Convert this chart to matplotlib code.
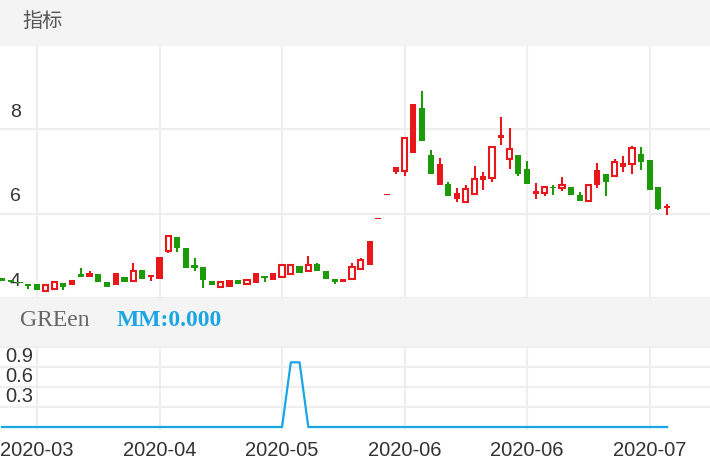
import matplotlib
matplotlib.use("Agg")
import matplotlib.pyplot as plt
from matplotlib.patches import Rectangle
from matplotlib.transforms import ScaledTranslation

plt.rcParams['font.family'] = ['Noto Sans CJK SC', 'DejaVu Sans']

# candle data
opens = [4.47, 4.43, 4.39, 4.33, 4.34, 4.17, 4.21, 4.36, 4.31, 4.56,
         4.49, 4.56, 4.39, 4.31, 4.49, 4.41, 4.67, 4.49, 4.46, 5.12,
         5.44, 5.19, 4.78, 4.74, 4.41, 4.27, 4.27, 4.42, 4.33, 4.35,
         4.51, 4.43, 4.49, 4.57, 4.76, 4.64, 4.80, 4.64, 4.45, 4.37,
         4.45, 4.69, 4.78, 5.87, 6.44, 6.98, 7.02, 7.45, 8.51, 7.39,
         6.68, 6.71, 6.35, 6.28, 6.46, 6.81, 6.84, 7.79, 7.29, 7.39,
         7.06, 6.47, 6.49, 6.63, 6.60, 6.63, 6.45, 6.29, 6.68, 6.94,
         6.89, 7.10, 7.18, 7.41, 7.28, 6.64, 6.14]
closes = [4.41, 4.38, 4.35, 4.28, 4.20, 4.30, 4.37, 4.25, 4.43, 4.49,
          4.59, 4.37, 4.27, 4.59, 4.38, 4.65, 4.46, 4.55, 4.98, 5.47,
          5.18, 4.72, 4.71, 4.42, 4.31, 4.39, 4.43, 4.33, 4.43, 4.59,
          4.47, 4.59, 4.78, 4.78, 4.59, 4.78, 4.63, 4.45, 4.37, 4.45,
          4.74, 4.90, 5.36, 5.89, 6.46, 7.10, 7.80, 8.59, 7.73, 6.94,
          7.18, 6.42, 6.49, 6.59, 6.82, 6.89, 7.59, 7.87, 7.53, 6.94,
          6.71, 6.53, 6.63, 6.61, 6.68, 6.45, 6.29, 6.68, 7.04, 6.76,
          7.23, 7.20, 7.55, 7.22, 6.55, 6.12, 6.17]
highs = [4.47, 4.43, 4.39, 4.33, 4.34, 4.30, 4.37, 4.36, 4.43, 4.72,
         4.65, 4.56, 4.39, 4.59, 4.49, 4.82, 4.67, 4.55, 4.98, 5.47,
         5.44, 5.19, 4.96, 4.74, 4.41, 4.39, 4.43, 4.42, 4.43, 4.59,
         4.51, 4.59, 4.78, 4.78, 4.76, 5.00, 4.84, 4.64, 4.45, 4.45,
         4.84, 4.96, 5.36, 5.89, 6.46, 7.10, 7.80, 8.59, 8.90, 7.51,
         7.32, 6.75, 6.60, 6.68, 7.12, 7.00, 7.59, 8.30, 8.02, 7.39,
         7.26, 6.72, 6.63, 6.68, 6.86, 6.63, 6.51, 6.68, 7.20, 6.94,
         7.29, 7.36, 7.61, 7.57, 7.28, 6.64, 6.24]
lows = [4.41, 4.38, 4.35, 4.22, 4.20, 4.17, 4.21, 4.20, 4.31, 4.49,
        4.49, 4.37, 4.27, 4.31, 4.38, 4.41, 4.46, 4.40, 4.46, 5.06,
        5.10, 4.72, 4.64, 4.24, 4.31, 4.27, 4.27, 4.33, 4.33, 4.35,
        4.37, 4.43, 4.49, 4.57, 4.59, 4.64, 4.63, 4.45, 4.34, 4.37,
        4.45, 4.69, 4.78, 5.87, 6.44, 6.94, 6.90, 7.45, 7.73, 6.94,
        6.68, 6.42, 6.28, 6.25, 6.46, 6.55, 6.74, 7.62, 7.07, 6.89,
        6.71, 6.35, 6.42, 6.45, 6.53, 6.45, 6.29, 6.29, 6.60, 6.43,
        6.89, 6.98, 6.94, 7.04, 6.55, 6.08, 5.96]
# rising candles drawn solid instead of hollow
solid_up = [8, 10, 13, 17, 18, 26, 29, 31, 39, 42, 43, 44, 45, 47, 50,
            52, 55, 57, 61, 68, 71, 76]

mm = [0.0] * 77
mm[33] = 0.97
mm[34] = 0.97

tick_pos = [4, 18, 32, 46, 60, 74]
tick_labels = ['2020-03', '2020-04', '2020-05', '2020-06', '2020-06', '2020-07']

RED = '#e8171c'
GREEN = '#1c9a0a'
BLUE = '#1aa6e4'
GRID = '#eeeeee'
BAND = '#f4f4f4'
TXT = '#333333'
LBL_FONT = ['Liberation Sans', 'DejaVu Sans']

fig = plt.figure(figsize=(7.1, 4.72), dpi=100)

# header bands
fig.patches.append(Rectangle((0, 1 - 45 / 472), 1, 45 / 472, transform=fig.transFigure,
                             color=BAND, zorder=0))
fig.patches.append(Rectangle((0, 1 - 345 / 472), 1, 47 / 472, transform=fig.transFigure,
                             color=BAND, zorder=0))
fig.text(22 / 710, 1 - 21 / 472, '指标', fontsize=14.5, color='#555555', va='center')
fig.text(20 / 710, 1 - 321 / 472, 'GREen', fontsize=17, color='#666666', va='center',
         family='Liberation Serif')
fig.text(117 / 710, 1 - 321 / 472, 'MM:0.000', fontsize=17, color=BLUE, va='center',
         family='Liberation Serif', fontweight='bold')

xmin, xmax = -0.23, 80.9

ax = fig.add_axes([0, 1 - 298 / 472, 1, 253 / 472])
for i in range(len(opens)):
    o, c, h, l = opens[i], closes[i], highs[i], lows[i]
    col = RED if c >= o else GREEN
    lo, hi = min(o, c), max(o, c)
    ax.vlines(i, l, lo, color=col, lw=1.5, zorder=2)
    ax.vlines(i, hi, h, color=col, lw=1.5, zorder=2)
    if c >= o and i not in solid_up:
        ax.bar(i, max(hi - lo, 0.03), bottom=lo, width=0.6, facecolor='white',
               edgecolor=col, linewidth=1.5, zorder=3)
    else:
        ax.bar(i, max(hi - lo, 0.03), bottom=lo, width=0.7, color=col, zorder=3)
ax.set_xlim(xmin, xmax)
ax.set_ylim(4.0, 10.0)
ax.set_yticks([4, 6, 8])
ax.set_xticks(tick_pos)
ax.set_xticklabels([])
ax.grid(True, color=GRID, lw=1.5)
ax.set_axisbelow(True)
ax.tick_params(length=0, axis='y', pad=-7, labelsize=14, labelcolor=TXT)
up6 = ScaledTranslation(0, 6 / 72, fig.dpi_scale_trans)
for lbl in ax.get_yticklabels():
    lbl.set_ha('left')
    lbl.set_va('bottom')
    lbl.set_family(LBL_FONT)
    lbl.set_transform(lbl.get_transform() + up6)
for s in ax.spines.values():
    s.set_visible(False)

ax2 = fig.add_axes([0, 1 - 430 / 472, 1, 85 / 472])
ax2.plot(range(len(mm)), mm, color=BLUE, lw=1.6)
ax2.set_xlim(xmin, xmax)
ax2.set_ylim(-0.045, 1.23)
ax2.set_yticks([0.3, 0.6, 0.9, 1.2])
ax2.set_yticklabels(['0.3', '0.6', '0.9', ''])
ax2.set_xticks(tick_pos)
ax2.set_xticklabels(tick_labels)
ax2.grid(True, color=GRID, lw=1.5)
ax2.set_axisbelow(True)
ax2.tick_params(length=0, labelsize=14.5, labelcolor=TXT)
ax2.tick_params(axis='x', pad=8)
ax2.tick_params(axis='y', pad=-4)
up2 = ScaledTranslation(0, 1 / 72, fig.dpi_scale_trans)
for lbl in ax2.get_yticklabels():
    lbl.set_ha('left')
    lbl.set_va('bottom')
    lbl.set_family(LBL_FONT)
    lbl.set_transform(lbl.get_transform() + up2)
for lbl in ax2.get_xticklabels():
    lbl.set_family(LBL_FONT)
for s in ax2.spines.values():
    s.set_visible(False)

fig.savefig('out.png', dpi=100)
